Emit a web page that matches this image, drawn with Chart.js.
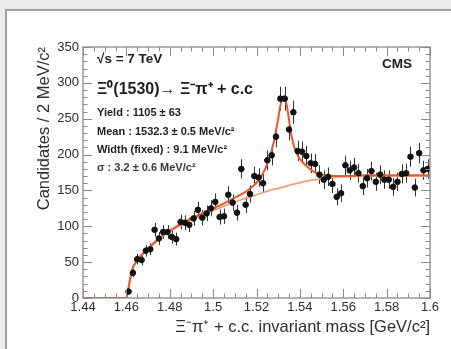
<!DOCTYPE html>
<html>
<head>
<meta charset="utf-8">
<script src="https://cdn.jsdelivr.net/npm/chart.js@4.4.1/dist/chart.umd.min.js"></script>
<style>
  html, body { margin: 0; padding: 0; background: #ececee; }
  #wrap { position: relative; width: 451px; height: 349px; overflow: hidden; }
  #panel { position: absolute; left: 5px; top: 9px; width: 460px; height: 360px;
           background: #ffffff; border-left: 2px solid #a2a2a4; border-top: 2px solid #a2a2a4; }
  #c { position: absolute; left: 0; top: 0; }
</style>
</head>
<body>
<div id="wrap">
  <div id="panel"></div>
  <canvas id="c" width="451" height="349"></canvas>
</div>
<script>
// ---- data ----
const massBins = [
  1.461, 1.463, 1.465, 1.467, 1.469, 1.471, 1.473, 1.475, 1.477, 1.479,
  1.481, 1.483, 1.485, 1.487, 1.489, 1.491, 1.493, 1.495, 1.497, 1.499,
  1.501, 1.503, 1.505, 1.507, 1.509, 1.511, 1.513, 1.515, 1.517, 1.519,
  1.521, 1.523, 1.525, 1.527, 1.529, 1.531, 1.533, 1.535, 1.537, 1.539,
  1.541, 1.543, 1.545, 1.547, 1.549, 1.551, 1.553, 1.555, 1.557, 1.559,
  1.561, 1.563, 1.565, 1.567, 1.569, 1.571, 1.573, 1.575, 1.577, 1.579,
  1.581, 1.583, 1.585, 1.587, 1.589, 1.591, 1.593, 1.595, 1.597, 1.599
];
const counts = [
  9, 35, 54, 53, 66, 68, 95, 83, 92, 92,
  85, 82, 106, 105, 102, 111, 123, 112, 118, 125,
  134, 113, 114, 144, 133, 119, 180, 130, 145, 170,
  168, 160, 192, 199, 225, 278, 278, 235, 259, 205,
  204, 198, 188, 187, 172, 165, 169, 159, 141, 146,
  185, 178, 182, 174, 156, 167, 177, 162, 172, 165,
  165, 155, 162, 173, 174, 197, 154, 202, 178, 180
];
// total fit curve (signal + background)
const fitMass = [1.44, 1.46, 1.461, 1.4625, 1.465, 1.47, 1.475, 1.48, 1.485, 1.49, 1.495, 1.50, 1.505, 1.51, 1.515, 1.518, 1.521, 1.524, 1.526, 1.528, 1.53, 1.531, 1.532, 1.533, 1.534, 1.535, 1.536, 1.538, 1.54, 1.543, 1.546, 1.55, 1.555, 1.56, 1.57, 1.58, 1.59, 1.60];
const fitTotal = [0, 0, 14, 38, 53, 69, 83, 94, 103, 111, 118, 125, 132, 140, 148, 155, 164, 180, 196, 218, 250, 268, 278, 278, 268, 248, 228, 205, 194, 184, 177, 172, 170, 170, 171, 171, 171, 171];
// background-only curve
const bkgMass = [1.44, 1.46, 1.461, 1.4625, 1.465, 1.47, 1.475, 1.48, 1.485, 1.49, 1.495, 1.50, 1.505, 1.51, 1.515, 1.52, 1.525, 1.53, 1.535, 1.54, 1.545, 1.55, 1.555, 1.56, 1.57, 1.58, 1.59, 1.60];
const bkgValues = [0, 0, 14, 38, 52, 68, 82, 93, 101, 109, 116, 122, 128, 134, 139, 144, 149, 153, 157, 161, 164, 166, 168, 169, 170, 170, 170, 170];
const xTickValues = [1.44, 1.46, 1.48, 1.50, 1.52, 1.54, 1.56, 1.58, 1.60];
const xTickLabels = ['1.44', '1.46', '1.48', '1.5', '1.52', '1.54', '1.56', '1.58', '1.6'];
const yTickValues = [0, 50, 100, 150, 200, 250, 300, 350];
const yTickLabels = ['0', '50', '100', '150', '200', '250', '300', '350'];

const FONT = "'Liberation Sans', Arial, Helvetica, sans-serif";

const errorBars = {
  id: 'errorBars',
  beforeDatasetsDraw(chart) {
    const {ctx, scales: {x, y}, chartArea} = chart;
    ctx.save();
    ctx.beginPath();
    ctx.rect(chartArea.left, chartArea.top, chartArea.right - chartArea.left, chartArea.bottom - chartArea.top);
    ctx.clip();
    ctx.strokeStyle = '#333';
    ctx.lineWidth = 1;
    massBins.forEach((m, i) => {
      const e = Math.sqrt(counts[i]);
      const px = Math.round(x.getPixelForValue(m)) + 0.5;
      ctx.beginPath();
      ctx.moveTo(px, y.getPixelForValue(counts[i] + e));
      ctx.lineTo(px, y.getPixelForValue(counts[i] - e));
      ctx.stroke();
    });
    ctx.restore();
  }
};

const frameTicks = {
  id: 'frameTicks',
  afterDraw(chart) {
    const {ctx, scales: {x, y}, chartArea: a} = chart;
    ctx.save();
    ctx.strokeStyle = '#8a8a8a';
    ctx.lineWidth = 1.3;
    ctx.strokeRect(a.left, a.top, a.right - a.left, a.bottom - a.top);
    ctx.lineWidth = 1;
    ctx.beginPath();
    for (let k = 0; k <= 32; k++) {
      const v = 1.44 + k * 0.005;
      const px = Math.round(x.getPixelForValue(v)) + 0.5;
      const len = (k % 4 === 0) ? 9 : 4.5;
      ctx.moveTo(px, a.bottom); ctx.lineTo(px, a.bottom - len);
      ctx.moveTo(px, a.top); ctx.lineTo(px, a.top + len);
    }
    for (let k = 0; k <= 35; k++) {
      const v = k * 10;
      const py = Math.round(y.getPixelForValue(v)) + 0.5;
      const len = (k % 5 === 0) ? 9 : 4.5;
      ctx.moveTo(a.left, py); ctx.lineTo(a.left + len, py);
      ctx.moveTo(a.right, py); ctx.lineTo(a.right - len, py);
    }
    ctx.stroke();

    // annotations
    const L = a.left + 14;
    ctx.fillStyle = '#1e1e1e';
    ctx.textBaseline = 'alphabetic';
    ctx.textAlign = 'left';
    ctx.font = "bold 13.5px " + FONT;
    ctx.fillText('\u221As = 7 TeV', L, a.top + 16);
    ctx.font = "bold 16px " + FONT;
    ctx.fillText('\u039E\u2070(1530)\u2192 \u039E\u207B\u03C0\u207A + c.c', L, a.top + 47);
    ctx.font = "bold 11px " + FONT;
    ctx.fillText('Yield : 1105 \u00B1 63', L, a.top + 69);
    ctx.fillText('Mean : 1532.3 \u00B1 0.5 MeV/c\u00B2', L, a.top + 88);
    ctx.fillText('Width (fixed) : 9.1 MeV/c\u00B2', L, a.top + 106);
    ctx.fillStyle = '#3a3a3a';
    ctx.fillText('\u03C3 : 3.2 \u00B1 0.6 MeV/c\u00B2', L, a.top + 124);
    ctx.fillStyle = '#1e1e1e';
    ctx.font = "bold 13.5px " + FONT;
    ctx.fillText('CMS', a.right - 48, a.top + 21);
    ctx.restore();
  }
};

new Chart(document.getElementById('c'), {
  type: 'scatter',
  data: {
    datasets: [
      {
        type: 'line',
        label: 'background',
        data: bkgMass.map((m, i) => ({x: m, y: bkgValues[i]})),
        borderColor: '#f2a07c',
        borderWidth: 1.8,
        pointRadius: 0,
        cubicInterpolationMode: 'monotone',
        fill: false,
        order: 3
      },
      {
        type: 'line',
        label: 'fit',
        data: fitMass.map((m, i) => ({x: m, y: fitTotal[i]})),
        borderColor: '#e8582c',
        borderWidth: 2,
        pointRadius: 0,
        cubicInterpolationMode: 'monotone',
        fill: false,
        order: 2
      },
      {
        label: 'data',
        data: massBins.map((m, i) => ({x: m, y: counts[i]})),
        backgroundColor: '#111',
        borderColor: '#111',
        pointRadius: 2.8,
        pointHoverRadius: 2.8,
        order: 1
      }
    ]
  },
  options: {
    responsive: false,
    animation: false,
    devicePixelRatio: 1,
    layout: { padding: { left: 0, top: 47, right: 21, bottom: 0 } },
    plugins: { legend: { display: false }, tooltip: { enabled: false } },
    scales: {
      x: {
        type: 'linear',
        min: 1.44, max: 1.60,
        grid: { display: false, drawTicks: false },
        border: { display: false },
        afterFit(s) { s.height = 51; },
        afterBuildTicks(s) { s.ticks = xTickValues.map(v => ({value: v})); },
        ticks: {
          padding: 2,
          autoSkip: false,
          maxRotation: 0,
          color: '#2e2e2e',
          font: { family: FONT, size: 13 },
          callback(v, i) { return xTickLabels[i]; }
        },
        title: {
          display: true,
          text: '\u039E\u207B\u03C0\u207A + c.c. invariant mass [GeV/c\u00B2]',
          align: 'end',
          color: '#2e2e2e',
          font: { family: FONT, size: 16.5 },
          padding: { top: 0, bottom: 12 }
        }
      },
      y: {
        type: 'linear',
        min: 0, max: 350,
        grid: { display: false, drawTicks: false },
        border: { display: false },
        afterFit(s) { s.width = 83; },
        afterBuildTicks(s) { s.ticks = yTickValues.map(v => ({value: v})); },
        ticks: {
          padding: 4,
          color: '#2e2e2e',
          font: { family: FONT, size: 13 },
          callback(v, i) { return yTickLabels[i]; }
        },
        title: {
          display: true,
          text: 'Candidates / 2 MeV/c\u00B2',
          align: 'end',
          color: '#2e2e2e',
          font: { family: FONT, size: 16.5 },
          padding: { top: 35, bottom: 0 }
        }
      }
    }
  },
  plugins: [errorBars, frameTicks]
});
</script>
</body>
</html>
